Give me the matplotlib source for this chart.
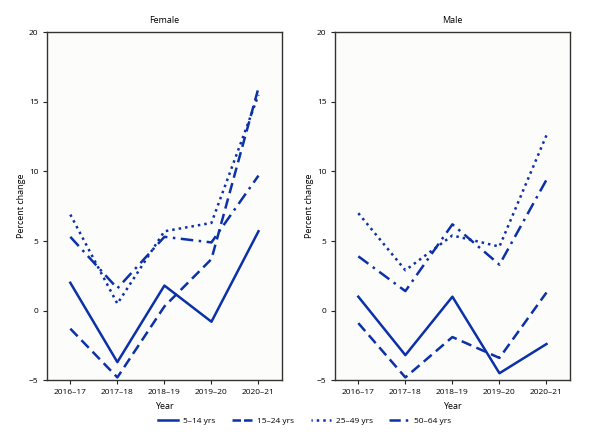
import matplotlib

matplotlib.use("Agg")
import matplotlib.pyplot as plt
from matplotlib.lines import Line2D

plt.rcParams["font.family"] = ["Open Sans", "DejaVu Sans"]

YEARS = ["2016\u201317", "2017\u201318", "2018\u201319", "2019\u201320", "2020\u201321"]
GROUPS = ["5\u201314 yrs", "15\u201324 yrs", "25\u201349 yrs", "50\u201364 yrs"]

female_5_14 = [2.0, -3.7, 1.8, -0.8, 5.7]
female_15_24 = [-1.3, -4.8, 0.3, 3.7, 16.0]
female_25_49 = [6.9, 0.5, 5.7, 6.3, 15.5]
female_50_64 = [5.3, 1.6, 5.3, 4.9, 9.7]

male_5_14 = [1.0, -3.2, 1.0, -4.5, -2.4]
male_15_24 = [-0.9, -4.8, -1.9, -3.4, 1.3]
male_25_49 = [7.0, 2.9, 5.4, 4.6, 12.6]
male_50_64 = [3.9, 1.4, 6.2, 3.3, 9.4]

BLUE = "#0b30a8"
STYLES = [
    "-",
    (0, (4.2, 2.2)),
    (0, (1, 1.6)),
    (0, (5, 2.2, 1, 2.2)),
]
# shorter patterns so the legend keys show whole dashes
LEGEND_STYLES = [
    "-",
    (0, (3.4, 1.2)),
    (0.5, (1, 1.6)),
    (0, (4.5, 2.0, 1, 2.0)),
]

fig = plt.figure(figsize=(6.0, 4.36), dpi=100)
fig.patch.set_facecolor("white")

panels = [
    ("Female", [female_5_14, female_15_24, female_25_49, female_50_64], 0.078),
    ("Male", [male_5_14, male_15_24, male_25_49, male_50_64], 0.558),
]

for title, series, left in panels:
    ax = fig.add_axes([left, 0.128, 0.392, 0.798])
    ax.set_facecolor("#fcfdfb")
    xs = range(len(YEARS))
    for vals, ls in zip(series, STYLES):
        ax.plot(xs, vals, color=BLUE, linestyle=ls, linewidth=1.8)
    ax.set_xlim(-0.5, 4.5)
    ax.set_ylim(-5, 20)
    ax.set_yticks([-5, 0, 5, 10, 15, 20])
    ax.set_xticks(list(xs))
    ax.set_xticklabels(YEARS)
    ax.tick_params(labelsize=6, length=3, width=0.8, color="#222", pad=3)
    for sp in ax.spines.values():
        sp.set_linewidth(1.0)
        sp.set_color("#333")
    ax.set_title(title, fontsize=6.5, pad=7)
    ax.set_xlabel("Year", fontsize=6.5, labelpad=5)
    ax.set_ylabel("Percent change", fontsize=6.5, labelpad=2)

handles = [
    Line2D([0], [0], color=BLUE, linestyle=ls, linewidth=1.8) for ls in LEGEND_STYLES
]
fig.legend(
    handles,
    GROUPS,
    loc="center",
    bbox_to_anchor=(0.508, 0.035),
    ncol=4,
    frameon=False,
    fontsize=6,
    handlelength=2.4,
    handletextpad=0.6,
    columnspacing=2.0,
)

fig.savefig("out.png", dpi=100, facecolor=fig.get_facecolor())
